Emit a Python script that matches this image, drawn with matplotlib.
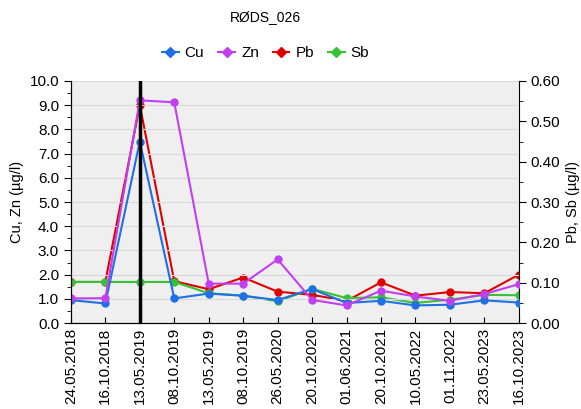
import matplotlib
matplotlib.use("Agg")
import matplotlib.pyplot as plt
from matplotlib.lines import Line2D
from matplotlib.ticker import MultipleLocator, FormatStrFormatter

plt.rcParams["font.family"] = ["Liberation Sans", "DejaVu Sans"]

datoer = ["24.05.2018", "16.10.2018", "13.05.2019", "08.10.2019", "13.05.2019",
          "08.10.2019", "26.05.2020", "20.10.2020", "01.06.2021", "20.10.2021",
          "10.05.2022", "01.11.2022", "23.05.2023", "16.10.2023"]

# venstre akse (ug/l)
cu = [0.95, 0.81, 7.5, 1.02, 1.22, 1.13, 0.95, 1.41, 0.83, 0.92, 0.73, 0.76, 0.94, 0.85]
zn = [1.02, 1.03, 9.2, 9.12, 1.63, 1.63, 2.63, 0.96, 0.73, 1.34, 1.10, 0.92, 1.20, 1.61]
# hoyre akse (ug/l)
pb = [0.102, 0.102, 0.54, 0.104, 0.084, 0.113, 0.078, 0.070, 0.055, 0.101, 0.068, 0.077, 0.074, 0.120]
sb = [0.102, 0.102, 0.102, 0.102, 0.074, 0.068, 0.054, 0.085, 0.062, 0.064, 0.050, 0.058, 0.070, 0.069]

markert_dato = 2

farger = {"Cu": "#1f6fe6", "Zn": "#c23ff0", "Pb": "#e00000", "Sb": "#35c235"}

fig = plt.figure(figsize=(5.81, 4.09), dpi=100)
ax = fig.add_axes([0.122, 0.21, 0.771, 0.592])
ax2 = ax.twinx()

# venstre akse over hoyre
ax.set_zorder(2)
ax.patch.set_visible(False)
ax2.set_zorder(1)
ax2.patch.set_visible(True)
ax2.patch.set_facecolor("#efefef")

x = list(range(len(datoer)))
ax.plot(x, cu, color=farger["Cu"], marker="o", markersize=5, lw=1.5)
ax.plot(x, zn, color=farger["Zn"], marker="o", markersize=5, lw=1.5)
ax2.plot(x, pb, color=farger["Pb"], marker="o", markersize=5, lw=1.5)
ax2.plot(x, sb, color=farger["Sb"], marker="o", markersize=5, lw=1.5)
ax.axvline(markert_dato, color="black", lw=2.5, zorder=5)

ax.set_xlim(0, len(datoer) - 1)
ax.set_ylim(0, 10)
ax2.set_ylim(0, 0.6)
ax.yaxis.set_major_locator(MultipleLocator(1))
ax.yaxis.set_minor_locator(MultipleLocator(0.5))
ax.yaxis.set_major_formatter(FormatStrFormatter("%.1f"))
ax2.yaxis.set_major_locator(MultipleLocator(0.1))
ax2.yaxis.set_minor_locator(MultipleLocator(0.05))
ax2.yaxis.set_major_formatter(FormatStrFormatter("%.2f"))

ax.set_xticks(x)
ax.set_xticklabels(datoer, rotation=90, fontsize=11)
ax.tick_params(axis="x", direction="in", length=4)
ax.tick_params(axis="y", which="major", length=5, labelsize=11)
ax.tick_params(axis="y", which="minor", length=3)
ax2.tick_params(axis="y", which="major", length=5, labelsize=11)
ax2.tick_params(axis="y", which="minor", length=3)

ax.grid(axis="y", color="#d9d9d9", lw=0.8)
ax.set_axisbelow(True)
for a in (ax, ax2):
    a.spines["top"].set_visible(False)
ax.spines["right"].set_visible(False)

ax.set_ylabel("Cu, Zn (µg/l)", fontsize=10.5)
ax2.set_ylabel("Pb, Sb (µg/l)", fontsize=10.5)

fig.suptitle("RØDS_026", x=0.457, y=0.975, fontsize=10)

handles = [Line2D([], [], color=farger[k], marker="D", markersize=5, lw=1.5) for k in farger]
fig.legend(handles, list(farger.keys()), loc="center", bbox_to_anchor=(0.457, 0.87),
           ncol=4, frameon=False, fontsize=11, handlelength=1.1, columnspacing=0.9,
           handletextpad=0.4)

fig.savefig("out.png", dpi=100)
